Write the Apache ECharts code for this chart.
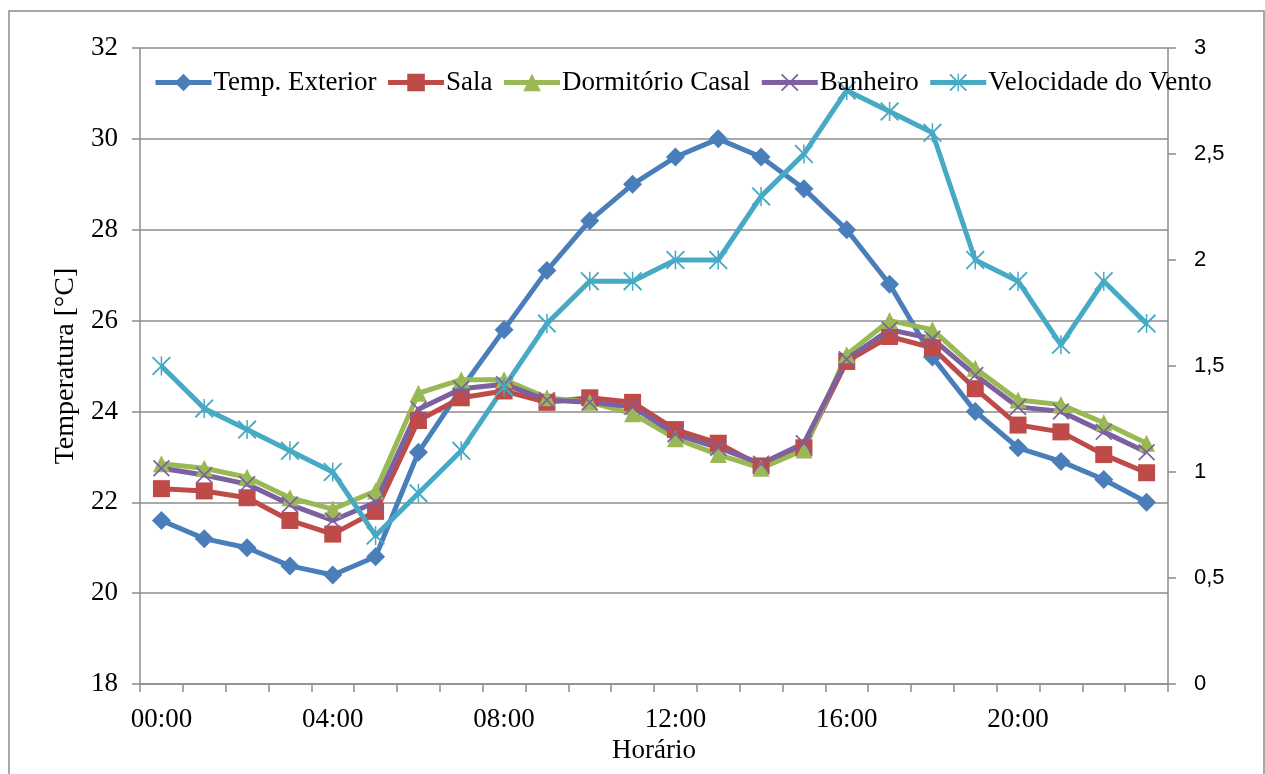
<!DOCTYPE html>
<html>
<head>
<meta charset="utf-8">
<title>Temperaturas e velocidade do vento</title>
<script src="https://cdn.jsdelivr.net/npm/echarts@6/dist/echarts.min.js"></script>
<style>
  html, body { margin: 0; padding: 0; background: #ffffff; }
  #chart { width: 1265px; height: 774px; }
</style>
</head>
<body>
<div id="chart"></div>
<script>
// Hourly readings, 00:00 .. 23:00
const hours = ['00:00','01:00','02:00','03:00','04:00','05:00','06:00','07:00','08:00','09:00','10:00','11:00',
               '12:00','13:00','14:00','15:00','16:00','17:00','18:00','19:00','20:00','21:00','22:00','23:00'];

// Temperatures [°C]
const tempExterior = [21.6, 21.2, 21.0, 20.6, 20.4, 20.8, 23.1, 24.5, 25.8, 27.1, 28.2, 29.0,
                      29.6, 30.0, 29.6, 28.9, 28.0, 26.8, 25.2, 24.0, 23.2, 22.9, 22.5, 22.0];
const sala         = [22.3, 22.25, 22.1, 21.6, 21.3, 21.8, 23.8, 24.3, 24.45, 24.2, 24.3, 24.2,
                      23.6, 23.3, 22.8, 23.2, 25.1, 25.65, 25.4, 24.5, 23.7, 23.55, 23.05, 22.65];
const dormitorio   = [22.85, 22.75, 22.55, 22.1, 21.85, 22.25, 24.4, 24.7, 24.7, 24.3, 24.2, 23.95,
                      23.4, 23.05, 22.75, 23.15, 25.25, 26.0, 25.8, 24.95, 24.25, 24.15, 23.75, 23.3];
const banheiro     = [22.75, 22.6, 22.4, 21.95, 21.6, 22.0, 24.05, 24.5, 24.6, 24.25, 24.2, 24.1,
                      23.5, 23.2, 22.85, 23.3, 25.15, 25.8, 25.6, 24.8, 24.1, 24.0, 23.55, 23.1];

// Wind speed (right axis)
const vento        = [1.5, 1.3, 1.2, 1.1, 1.0, 0.7, 0.9, 1.1, 1.4, 1.7, 1.9, 1.9,
                      2.0, 2.0, 2.3, 2.5, 2.8, 2.7, 2.6, 2.0, 1.9, 1.6, 1.9, 1.7];

const seriesNames = ['Temp. Exterior', 'Sala', 'Dormitório Casal', 'Banheiro', 'Velocidade do Vento'];
const seriesColors = ['#4A7EBB', '#BE4B48', '#98B954', '#7D60A0', '#46AAC5'];

// Marker shapes drawn as filled paths
const crossPath = 'path://M0,0.7 L0.7,0 L10,9.3 L9.3,10 Z M9.3,0 L10,0.7 L0.7,10 L0,9.3 Z';
const starPath  = 'path://M0,0.7 L0.7,0 L10,9.3 L9.3,10 Z M9.3,0 L10,0.7 L0.7,10 L0,9.3 Z M4.6,0 L5.4,0 L5.4,10 L4.6,10 Z';

const serif = '"Liberation Serif", "Times New Roman", serif';
const sans  = '"Liberation Sans", Arial, sans-serif';
const gridGray = '#8c8c8c';

function lineSeries(name, data, color, symbol, size, yIndex) {
  return {
    name: name,
    type: 'line',
    data: data,
    yAxisIndex: yIndex,
    symbol: symbol,
    symbolSize: size,
    showAllSymbol: true,
    color: color,
    lineStyle: { width: 5, color: color },
    itemStyle: { color: color },
    emphasis: { disabled: true },
    animation: false
  };
}

const chart = echarts.init(document.getElementById('chart'), null, { renderer: 'canvas' });

chart.setOption({
  backgroundColor: '#ffffff',
  animation: false,
  graphic: [{
    type: 'rect',
    shape: { x: 9, y: 11, width: 1255, height: 775 },
    style: { fill: 'none', stroke: '#8a8a8a', lineWidth: 1.5 },
    silent: true,
    z: -1
  }],
  grid: { left: 140, right: 97, top: 48, bottom: 90, containLabel: false },
  legend: {
    data: seriesNames,
    left: 148,
    top: 64,
    itemWidth: 56,
    itemHeight: 22,
    itemGap: 9,
    lineStyle: { width: 5 },
    textStyle: { fontFamily: serif, fontSize: 27, color: '#000000', padding: [0, 0, 0, -3] }
  },
  xAxis: {
    type: 'category',
    data: hours,
    boundaryGap: true,
    name: 'Horário',
    nameLocation: 'middle',
    nameGap: 49,
    nameTextStyle: { fontFamily: serif, fontSize: 27, color: '#000000' },
    axisLine: { lineStyle: { color: gridGray, width: 1.5 } },
    axisTick: { show: true, interval: 0, length: 8, lineStyle: { color: gridGray, width: 1.5 } },
    axisLabel: { interval: 3, margin: 22, fontFamily: serif, fontSize: 27, color: '#000000' },
    splitLine: { show: false }
  },
  yAxis: [{
    type: 'value',
    min: 18,
    max: 32,
    interval: 2,
    name: 'Temperatura [°C]',
    nameLocation: 'middle',
    nameGap: 52,
    nameRotate: 90,
    nameTextStyle: { fontFamily: serif, fontSize: 28, color: '#000000' },
    axisLine: { show: true, lineStyle: { color: gridGray, width: 1.5 } },
    axisTick: { show: true, length: 8, lineStyle: { color: gridGray, width: 1.5 } },
    axisLabel: { margin: 22, fontFamily: serif, fontSize: 27, color: '#000000' },
    splitLine: { show: true, lineStyle: { color: gridGray, width: 1.5 } }
  }, {
    type: 'value',
    min: 0,
    max: 3,
    interval: 0.5,
    position: 'right',
    axisLine: { show: true, lineStyle: { color: gridGray, width: 1.5 } },
    axisTick: { show: true, length: 8, lineStyle: { color: gridGray, width: 1.5 } },
    axisLabel: {
      margin: 26,
      align: 'left',
      fontFamily: sans,
      fontSize: 22,
      color: '#000000',
      formatter: function (v) { return String(v).replace('.', ','); }
    },
    splitLine: { show: false }
  }],
  series: [
    lineSeries(seriesNames[0], tempExterior, seriesColors[0], 'diamond', 19, 0),
    lineSeries(seriesNames[1], sala, seriesColors[1], 'rect', 17, 0),
    lineSeries(seriesNames[2], dormitorio, seriesColors[2], 'triangle', 17, 0),
    lineSeries(seriesNames[3], banheiro, seriesColors[3], crossPath, 17, 0),
    lineSeries(seriesNames[4], vento, seriesColors[4], starPath, 19, 1)
  ]
});
</script>
</body>
</html>
